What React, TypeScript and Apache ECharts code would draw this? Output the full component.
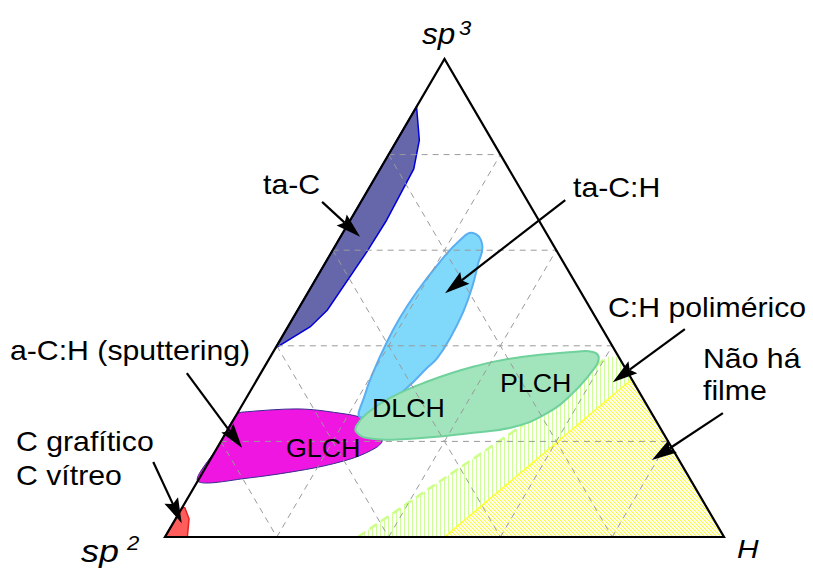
import React, { useEffect, useRef } from 'react';
import * as echarts from 'echarts';

// Region outlines in ternary coordinates: [sp3 %, H %]  (sp2 = 100 - sp3 - H)
const TA_C = [[90, 0], [83, 4], [77, 6], [66, 6.5], [60, 6.3], [47.5, 5.3], [44, 4], [39.5, 0]];
const TA_CH = [[63.6, 23.3], [61.1, 26.2], [56.9, 27.5], [52.7, 28.7], [47.1, 29.8], [41.6, 30.2], [37.4, 30.0], [35.4, 29.2], [31.2, 27.7], [27.6, 25.6], [25.1, 22.3], [29.7, 20.9], [34.5, 20.0], [40.8, 19.3], [45.8, 19.1], [51.3, 19.4], [57.5, 20.4], [62.1, 21.7]];
const GLCH = [[11.7, 0], [12.3, 8.5], [14.4, 19.3], [16.5, 25.4], [18.8, 28.5], [20.3, 28.7], [24.5, 23.9], [26.2, 16.4], [26.8, 10.2], [26.2, 1.6], [25.7, 0], [18.7, 0]];
const PLCH = [[22.0, 23.2], [20.7, 25.8], [20.5, 33.0], [21.8, 44.2], [23.0, 50.8], [25.9, 55.4], [30.1, 57.9], [34.9, 59.1], [37.4, 58.9], [38.7, 57.2], [38.7, 53.6], [37.7, 45.2], [35.6, 37.3], [32.2, 30.1], [29.1, 25.7], [25.9, 23.2], [23.4, 22.6]];
const C_GRAF = [[0, 0], [0, 4], [3.8, 2.4], [6.1, 0.5], [6.1, 0]];
const NO_FILM = [[0, 50], [33, 67], [0, 100]];
const POLYMER = [[0, 34.5], [23, 52], [37.7, 60.3], [37.7, 62.3], [33, 67], [0, 50]];
const POLYMER_EDGE = [[0, 34.5], [23, 52], [37.7, 60.3]];
const NO_FILM_EDGE = [[0, 50], [33, 67]];
const CORNERS = [[0, 0], [100, 0], [0, 100]]; // [sp3, H] of the sp2, sp3 and H vertices
const GRID_TICKS = [20, 40, 60, 80];

// Annotation arrows in plot coordinates [x1, y1, x2(tip), y2(tip)]
const ARROWS = [
  [28.1, 70.1, 34.9, 62.8],
  [71.6, 70.5, 50.1, 51.0],
  [93.0, 43.5, 80.1, 32.4],
  [99.8, 25.9, 87.1, 16.1],
  [3.9, 34.3, 13.8, 18.6],
  [-2.1, 15.7, 3.0, 2.9],
];

const tern = (p: number[]) => [p[1] + p[0] / 2, p[0]];

const FONT = '"Liberation Sans", Arial, sans-serif';

function makePattern(kind: 'diag' | 'vert') {
  const c = document.createElement('canvas');
  const n = 8;
  c.width = n;
  c.height = n;
  const ctx = c.getContext('2d')!;
  ctx.fillStyle = '#ffffff';
  ctx.fillRect(0, 0, n, n);
  for (let x = 0; x < n; x++) {
    for (let y = 0; y < n; y++) {
      if (kind === 'diag') {
        const d = (((x - y) % 4) + 4) % 4;
        if (d === 0) { ctx.fillStyle = 'rgb(250,250,60)'; ctx.fillRect(x, y, 1, 1); }
        else if (d === 1) { ctx.fillStyle = 'rgb(255,255,175)'; ctx.fillRect(x, y, 1, 1); }
      } else {
        if (x % 4 === 0) { ctx.fillStyle = 'rgb(205,255,150)'; ctx.fillRect(x, y, 1, 1); }
      }
    }
  }
  return { image: c, repeat: 'repeat' };
}

export default function App() {
  const ref = useRef<HTMLDivElement>(null);
  useEffect(() => {
    const chart = echarts.init(ref.current!, null, { renderer: 'svg' });
    const diag = makePattern('diag');
    const vert = makePattern('vert');

    const poly = (pts: number[][], style: any, smooth = 0, z = 2) => ({
      type: 'custom',
      z,
      silent: true,
      clip: false,
      data: [[50, 50]],
      renderItem: (_p: any, api: any) => ({
        type: 'polygon',
        shape: { points: pts.map((p) => api.coord(tern(p))), smooth },
        style,
      }),
    });
    const polyline = (pts: number[][], style: any, z = 2) => ({
      type: 'custom',
      z,
      silent: true,
      clip: false,
      data: [[50, 50]],
      renderItem: (_p: any, api: any) => ({
        type: 'polyline',
        shape: { points: pts.map((p) => api.coord(tern(p))) },
        style: { fill: null, ...style },
      }),
    });

    const gridSeries = {
      type: 'custom',
      z: 8,
      silent: true,
      data: GRID_TICKS.map((t) => [t, t]),
      renderItem: (_p: any, api: any) => {
        const t = api.value(0);
        const seg = (a: number[], b: number[]) => {
          const p1 = api.coord(tern(a));
          const p2 = api.coord(tern(b));
          return {
            type: 'line',
            shape: { x1: p1[0], y1: p1[1], x2: p2[0], y2: p2[1] },
            style: { stroke: '#9a9a9a', lineWidth: 1, lineDash: [6, 5] },
          };
        };
        return {
          type: 'group',
          children: [
            seg([t, 0], [t, 100 - t]),
            seg([0, t], [100 - t, t]),
            seg([100 - t, 0], [0, 100 - t]),
          ],
        };
      },
    };

    const arrowSeries = {
      type: 'custom',
      z: 10,
      silent: true,
      clip: false,
      data: ARROWS,
      encode: { x: [0, 2], y: [1, 3] },
      renderItem: (_p: any, api: any) => {
        const a = api.coord([api.value(0), api.value(1)]);
        const b = api.coord([api.value(2), api.value(3)]);
        const dx = b[0] - a[0];
        const dy = b[1] - a[1];
        const len = Math.hypot(dx, dy);
        const ux = dx / len;
        const uy = dy / len;
        const L = 25;
        const W = 7.5;
        const bx = b[0] - ux * L;
        const by = b[1] - uy * L;
        return {
          type: 'group',
          children: [
            {
              type: 'line',
              shape: { x1: a[0], y1: a[1], x2: bx + ux * 4, y2: by + uy * 4 },
              style: { stroke: '#000', lineWidth: 2.2 },
            },
            {
              type: 'polygon',
              shape: {
                points: [
                  [b[0], b[1]],
                  [bx - uy * W, by + ux * W],
                  [bx + ux * 4, by + uy * 4],
                  [bx + uy * W, by - ux * W],
                ],
              },
              style: { fill: '#000' },
            },
          ],
        };
      },
    };

    const txt = (text: string, x: number, y: number, size: number, italic = false, sx = 1.08) => ({
      type: 'text',
      x,
      y,
      scaleX: sx,
      z: 20,
      style: {
        text,
        fill: '#000',
        font: `${italic ? 'italic ' : ''}${size}px ${FONT}`,
        align: 'left',
        verticalAlign: 'middle',
      },
    });

    chart.setOption({
      animation: false,
      backgroundColor: '#ffffff',
      grid: { left: 165, top: 59, width: 559, height: 478 },
      xAxis: { type: 'value', min: 0, max: 100, show: false },
      yAxis: { type: 'value', min: 0, max: 100, show: false },
      series: [
        poly(NO_FILM, { fill: diag }, 0, 1),
        poly(POLYMER, { fill: vert }, 0, 1),
        polyline(NO_FILM_EDGE, { stroke: '#ffff33', lineWidth: 1.5 }, 1),
        polyline(POLYMER_EDGE, { stroke: '#ccff88', lineWidth: 2.5, lineDash: [9, 5] }, 1),
        poly(TA_C, { fill: '#6666aa', stroke: '#0000dd', lineWidth: 1.5 }, 0, 3),
        poly(GLCH, { fill: '#ee16e0', stroke: '#3a2a90', lineWidth: 1 }, 0.3, 4),
        poly(TA_CH, { fill: '#80d8fa', stroke: '#5aaef2', lineWidth: 2 }, 0.45, 5),
        poly(PLCH, { fill: '#a2e4bc', stroke: '#6fd19b', lineWidth: 2 }, 0.45, 6),
        poly(C_GRAF, { fill: '#ff5c5c', stroke: '#e62020', lineWidth: 1.5 }, 0, 7),
        gridSeries,
        polyline([...CORNERS, CORNERS[0], CORNERS[1]], { stroke: '#000', lineWidth: 2.2, lineJoin: 'miter', miterLimit: 20 }, 9),
        arrowSeries,
      ],
      graphic: [
        txt('sp', 422, 34, 30, true, 1.05),
        txt('3', 459, 28, 21, true, 1.05),
        txt('sp', 81, 551, 32, true, 1.12),
        txt('2', 127, 543, 21, true, 1.05),
        txt('H', 737, 549, 26, true, 1.15),
        txt('ta-C', 263, 184, 28),
        txt('ta-C:H', 573, 187, 28),
        txt('C:H polimérico', 608, 307, 28),
        txt('Não há', 703, 358, 28),
        txt('filme', 703, 390, 28),
        txt('a-C:H (sputtering)', 10, 350, 28),
        txt('C grafítico', 16, 441, 28),
        txt('C vítreo', 16, 475, 28),
        txt('GLCH', 286, 448, 26, false, 1.03),
        txt('DLCH', 372, 408, 26, false, 1.03),
        txt('PLCH', 500, 383, 26, false, 1.03),
      ],
    });
    return () => chart.dispose();
  }, []);
  return <div ref={ref} style={{ position: 'fixed', left: 0, top: 0, width: 813, height: 568 }} />;
}
